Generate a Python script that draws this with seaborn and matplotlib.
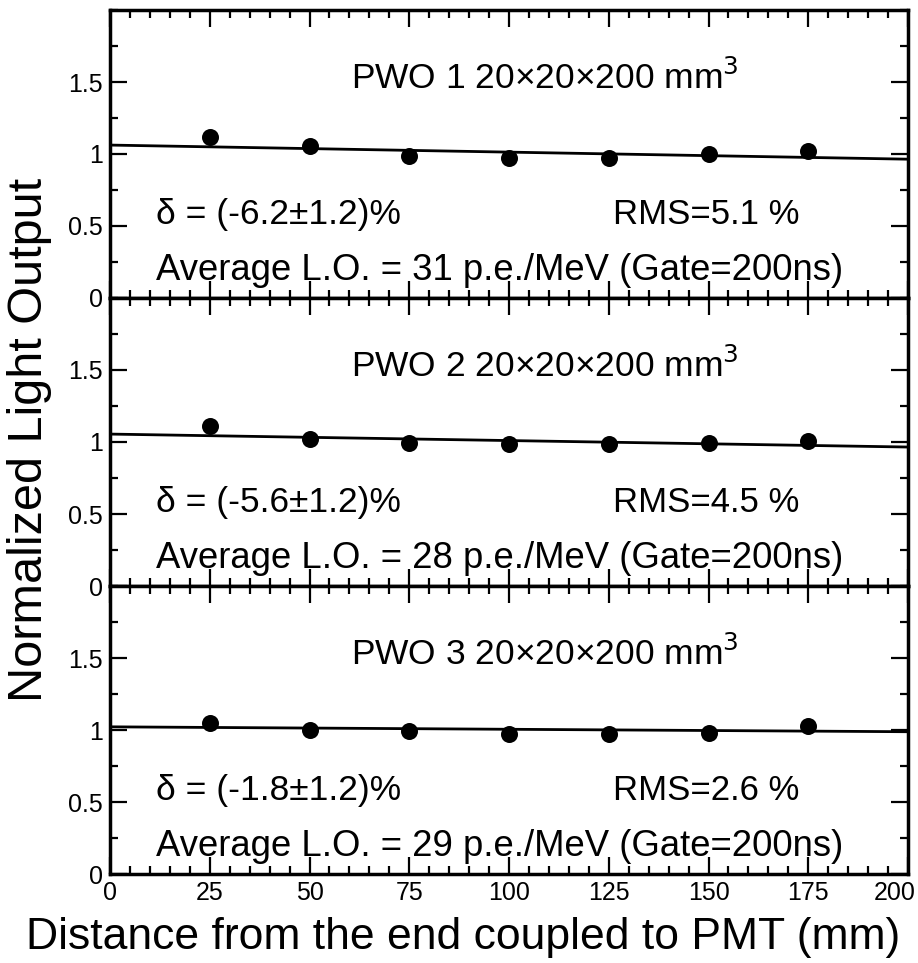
import matplotlib
matplotlib.use("Agg")
import matplotlib.pyplot as plt
from matplotlib.ticker import MultipleLocator, FormatStrFormatter
from matplotlib.transforms import ScaledTranslation
import numpy as np
import pandas as pd
import seaborn as sns

sns.set_theme(style="ticks")
plt.rcParams["font.family"] = ["Liberation Sans", "DejaVu Sans"]
plt.rcParams["text.color"] = "black"
plt.rcParams["axes.labelcolor"] = "black"

# Scan positions along the crystal (mm)
positions = [25, 50, 75, 100, 125, 150, 175]

# Normalized light output for each crystal
pwo1 = [1.12, 1.056, 0.986, 0.972, 0.972, 1.000, 1.020]
pwo2 = [1.11, 1.020, 0.990, 0.986, 0.986, 0.990, 1.007]
pwo3 = [1.05, 1.000, 0.993, 0.975, 0.975, 0.982, 1.028]

# Linear fit parameters (intercept, slope per mm)
fit_intercepts = [1.062, 1.055, 1.022]
fit_slopes = [-0.00049, -0.00045, -0.00017]

crystal_names = ["PWO 1", "PWO 2", "PWO 3"]
deltas = ["(-6.2\u00b11.2)%", "(-5.6\u00b11.2)%", "(-1.8\u00b11.2)%"]
rms_values = ["5.1 %", "4.5 %", "2.6 %"]
avg_lo = [31, 28, 29]

series = [pwo1, pwo2, pwo3]

fig_w, fig_h = 918, 963
fig, axes = plt.subplots(3, 1, figsize=(fig_w / 100, fig_h / 100), dpi=100, sharex=True)
fig.subplots_adjust(left=110 / fig_w, right=908 / fig_w, top=1 - 10 / fig_h,
                    bottom=1 - 874 / fig_h, hspace=0)

fit_x = np.array([0.0, 200.0])
for i, ax in enumerate(axes):
    df = pd.DataFrame({"x": positions, "y": series[i]})
    fit_df = pd.DataFrame({"x": fit_x, "y": fit_intercepts[i] + fit_slopes[i] * fit_x})
    sns.lineplot(data=fit_df, x="x", y="y", ax=ax, color="black", linewidth=2.0)
    sns.scatterplot(data=df, x="x", y="y", ax=ax, color="black", s=150,
                    edgecolor="black", linewidth=0, zorder=5)

    ax.set_xlim(0, 200)
    ax.set_ylim(0, 2)
    ax.set_xlabel("")
    ax.set_ylabel("")
    ax.yaxis.set_major_locator(plt.FixedLocator([0, 0.5, 1, 1.5]))
    ax.yaxis.set_minor_locator(MultipleLocator(0.25))
    ax.yaxis.set_major_formatter(FormatStrFormatter("%g"))
    ax.xaxis.set_major_locator(plt.FixedLocator([0, 25, 50, 75, 100, 125, 150, 175, 200]))
    ax.xaxis.set_minor_locator(MultipleLocator(5))
    ax.tick_params(which="both", direction="in", top=True, right=True,
                   labelsize=18, colors="black", width=1.6)
    ax.tick_params(which="major", length=12, pad=5)
    ax.tick_params(which="minor", length=6)
    for sp in ax.spines.values():
        sp.set_linewidth(2.5)
        sp.set_color("black")
        sp.set_visible(True)

    ax.text(60.5, 1.53, f"{crystal_names[i]} 20\u00d720\u00d7200 mm$^3$",
            fontsize=25.5, va="center", ha="left")
    ax.text(11.5, 0.58, "\u03b4 = " + deltas[i], fontsize=25.5, va="center", ha="left")
    ax.text(126, 0.58, "RMS=" + rms_values[i], fontsize=25, va="center", ha="left")
    ax.text(11.5, 0.19, f"Average L.O. = {avg_lo[i]} p.e./MeV (Gate=200ns)",
            fontsize=26.3, va="center", ha="left")

for ax in axes[:-1]:
    ax.tick_params(labelbottom=False)

# keep the last x tick label inside the canvas
last_tick = axes[-1].xaxis.get_major_ticks()[-1]
last_tick.label1.set_horizontalalignment("right")
last_tick.label1.set_transform(last_tick.label1.get_transform()
                               + ScaledTranslation(8 / 100, 0, fig.dpi_scale_trans))

fig.text(30 / fig_w, 1 - 440 / fig_h, "Normalized Light Output", rotation=90,
         fontsize=35, ha="center", va="center")
fig.text(463 / fig_w, 1 - 937 / fig_h, "Distance from the end coupled to PMT (mm)",
         fontsize=32, ha="center", va="center")

fig.savefig("out.png", dpi=100)
